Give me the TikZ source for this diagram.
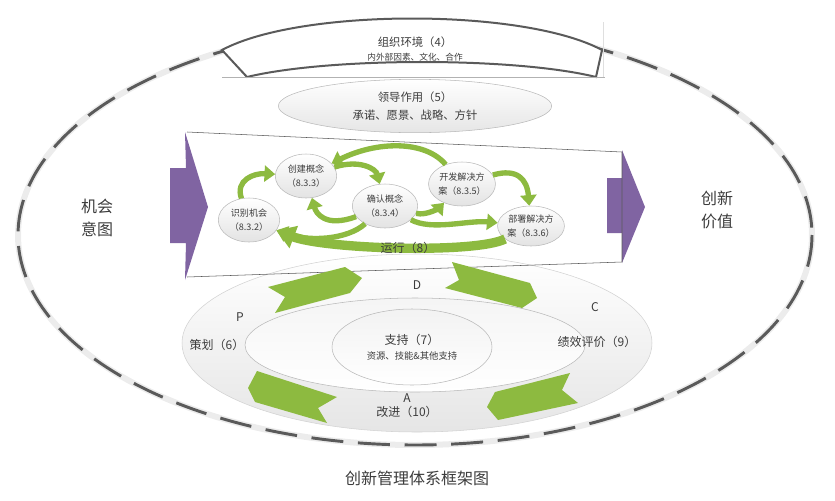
\documentclass[tikz,border=0pt]{standalone}
\usepackage{fontspec}
\setmainfont{Noto Sans CJK SC}
\usetikzlibrary{shapes.geometric,arrows.meta}
\definecolor{procgreen}{RGB}{141,186,64}
\definecolor{inpurple}{RGB}{128,100,162}
\definecolor{txtgray}{RGB}{60,60,60}
\definecolor{linegray}{RGB}{90,90,90}
\tikzset{
  stepnode/.style={ellipse, draw=gray!55, top color=white, bottom color=gray!22,
    minimum width=46pt, minimum height=33pt, inner sep=0pt, align=center,
    text=txtgray, font=\fontsize{6.8pt}{10.5pt}\selectfont},
  procarrow/.style={draw=procgreen, line width=4pt, -{Triangle[length=8pt,width=12pt]}},
  lbl/.style={text=txtgray, font=\fontsize{9pt}{11pt}\selectfont},
  bigtxt/.style={text=txtgray, align=center, font=\fontsize{12pt}{17pt}\selectfont},
}

\begin{document}
\begin{tikzpicture}[x=0.75pt, y=-0.75pt]
\useasboundingbox (0,0) rectangle (835,500);
% outer dashed frame
\draw[gray!15, line width=4.5pt] (415,235) ellipse [x radius=397, y radius=210];
\draw[linegray, line width=2.2pt, dash pattern=on 24pt off 11pt] (415,235) ellipse [x radius=397, y radius=210];
% organisation environment
\draw[linegray, line width=1.5pt, fill=white] (222,50) .. controls (300,8) and (524,8) .. (602,50)
  -- (596,77) .. controls (515,57) and (330,57) .. (247,77) -- cycle;
\draw[gray!60, thin] (222,77) -- (605,77);
\draw[gray!25, thin] (603,22) -- (603,77);
\node[lbl, align=center, font=\fontsize{8.5pt}{11pt}\selectfont] (env) at (415,49)
  {组织环境（4）\\\fontsize{6.5pt}{8pt}\selectfont 内外部因素、文化、合作};
% leadership
\node[ellipse, draw=gray!55, top color=white, bottom color=gray!20, minimum width=205pt,
  minimum height=40pt, align=center, text=txtgray, font=\fontsize{8.5pt}{13pt}\selectfont]
  (lead) at (415,106) {领导作用（5）\\承诺、愿景、战略、方针};
% operation band
\fill[white] (187,132) -- (622,152) -- (622,262) -- (187,277) -- cycle;
\fill[inpurple] (170,168) -- (186,168) -- (185,132) -- (208,207) -- (185,280) -- (186,243) -- (170,243) -- cycle;
\fill[inpurple] (607,178) -- (622,178) -- (622,150) -- (645,207) -- (622,263) -- (622,233) -- (607,233) -- cycle;
% PDCA rings
\draw[gray!35, top color=white, bottom color=gray!20] (417,343) ellipse [x radius=235, y radius=89];
\draw[gray!55, top color=gray!8, bottom color=white] (415,345) ellipse [x radius=170, y radius=47];
\draw[linegray, thin] (187,132) -- (622,152) -- (622,262) -- (187,277);
% process steps
\node[stepnode] (n832) at (249,220) {识别机会\\（8.3.2）};
\node[stepnode] (n833) at (306,176) {创建概念\\（8.3.3）};
\node[stepnode, minimum width=49pt] (n834) at (385,206) {确认概念\\（8.3.4）};
\node[stepnode] (n835) at (462,184) {开发解决方\\案（8.3.5）};
\node[stepnode, minimum width=48pt, minimum height=30pt] (n836) at (531,226) {部署解决方\\案（8.3.6）};
\draw[procarrow] ([shift={(-16,-22)}]n832) .. controls +(2,-18) and +(-18,0) .. ([shift={(-34,-3)}]n833);
\draw[procarrow] ([shift={(36,-15)}]n833) .. controls +(18,-2) and +(-6,-14) .. ([shift={(-3,-23)}]n834);
\draw[procarrow] ([shift={(-32,-22)}]n835) .. controls +(-5,-22) and +(25,-12) .. ([shift={(46,-23)}]n833);
\draw[procarrow] ([shift={(-38,20)}]n834) .. controls +(-22,2) and +(8,14) .. ([shift={(2,23)}]n833);
\draw[procarrow] ([shift={(32,2)}]n834) .. controls +(10,8) and +(-14,6) .. ([shift={(-8,17)}]n835);
\draw[procarrow] ([shift={(32,13)}]n834) .. controls +(15,12) and +(-25,-2) .. ([shift={(-38,-4)}]n836);
\draw[procarrow] ([shift={(35,-16)}]n835) .. controls +(20,0) and +(-6,-15) .. ([shift={(2,-32)}]n836);
\draw[procarrow] ([shift={(-13,26)}]n834) .. controls +(-25,8) and +(30,2) .. ([shift={(29,20)}]n832);
\draw[procarrow, line width=7pt, -{Triangle[length=14pt,width=17pt]}]
  ([shift={(-31,14)}]n836) .. controls +(-25,14) and +(60,-2) .. ([shift={(16,31)}]n832);
\node[lbl] (run) at (408,248) {运行（8）};
% PDCA chevrons
\fill[procgreen] (268,287) -- (345,267) -- (362,278) -- (350,293) -- (275,313) -- (285,297) -- cycle;
\fill[procgreen] (452,262) -- (530,283) -- (537,298) -- (522,308) -- (445,288) -- (459,280) -- cycle;
\fill[procgreen] (257,371) -- (337,397) -- (318,408) -- (327,423) -- (255,402) -- (248,388) -- cycle;
\fill[procgreen] (495,392) -- (570,373) -- (562,390) -- (578,403) -- (498,420) -- (487,407) -- cycle;
% support
\node[ellipse, draw=gray!55, top color=gray!10, bottom color=white, minimum width=120pt,
  minimum height=57pt, align=center, text=txtgray, font=\fontsize{9pt}{11pt}\selectfont]
  (support) at (412,347) {支持（7）\\\fontsize{7pt}{9pt}\selectfont 资源、技能\&其他支持};
\node[lbl] (P) at (240,317) {P};
\node[lbl] (D) at (417,285) {D};
\node[lbl] (C) at (595,307) {C};
\node[lbl] (A) at (407,398) {A};
\node[lbl] (plan) at (217,345) {策划（6）};
\node[lbl] (check) at (597,342) {绩效评价（9）};
\node[lbl] (act) at (407,412) {改进（10）};
% sides and title
\node[bigtxt] (chance) at (97,218) {机会\\意图};
\node[bigtxt] (value) at (717,210) {创新\\价值};
\node[bigtxt] (title) at (417,478) {创新管理体系框架图};
\end{tikzpicture}
\end{document}
